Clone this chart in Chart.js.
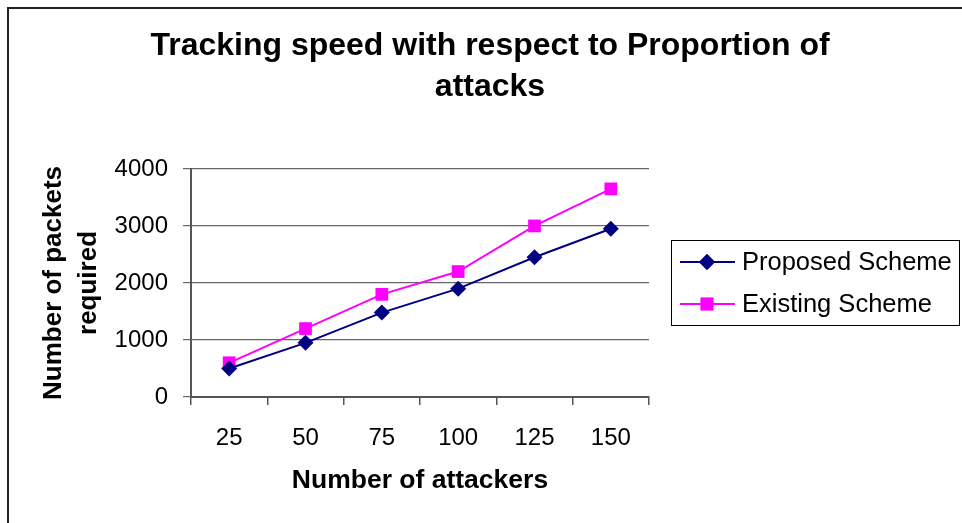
<!DOCTYPE html>
<html>
<head>
<meta charset="utf-8">
<script src="https://cdn.jsdelivr.net/npm/chart.js@4.4.1/dist/chart.umd.min.js"></script>
<style>
  html, body { margin: 0; padding: 0; background: #fff; }
  #wrap { width: 962px; height: 523px; }
</style>
</head>
<body>
<div id="wrap"><canvas id="lineChart" width="962" height="523"></canvas></div>
<script>
const attackers = ['25', '50', '75', '100', '125', '150'];
const proposed = [500, 950, 1480, 1900, 2450, 2950];
const existing = [600, 1200, 1800, 2200, 3000, 3650];
const yTicks = [0, 1000, 2000, 3000, 4000];

const FONT = "'Liberation Sans', Arial, sans-serif";

// frame + legend box drawn by hand, excel style
const excelBits = {
  id: 'excelBits',
  afterDraw(chart) {
    const c = chart.ctx;
    c.save();
    c.strokeStyle = '#222';
    c.lineWidth = 2;
    c.beginPath();
    c.moveTo(8, 523); c.lineTo(8, 8); c.lineTo(962, 8);
    c.stroke();

    // legend
    const bx = 671, by = 240, bw = 288, bh = 85;
    c.fillStyle = '#fff';
    c.fillRect(bx, by, bw, bh);
    c.lineWidth = 1;
    c.strokeStyle = '#000';
    c.strokeRect(bx + 0.5, by + 0.5, bw, bh);
    const rows = [262, 304];
    chart.data.datasets.forEach((ds, i) => {
      const y = rows[i];
      c.strokeStyle = ds.borderColor;
      c.lineWidth = 2;
      c.beginPath(); c.moveTo(680, y); c.lineTo(735, y); c.stroke();
      c.fillStyle = ds.backgroundColor;
      Chart.helpers.drawPoint(c, {pointStyle: ds.pointStyle, radius: ds.pointRadius, borderWidth: 0}, 707, y);
      c.fill();
      c.fillStyle = '#000';
      c.font = '25.5px ' + FONT;
      c.textBaseline = 'middle';
      c.textAlign = 'left';
      c.fillText(ds.label, 742, y + 1);
    });
    c.restore();
  }
};

new Chart(document.getElementById('lineChart'), {
  type: 'line',
  data: {
    labels: attackers,
    datasets: [{
      label: 'Proposed Scheme',
      data: proposed,
      borderColor: '#000080',
      backgroundColor: '#000080',
      borderWidth: 2,
      pointStyle: 'rectRot',
      pointRadius: 8,
      pointBorderWidth: 0,
      tension: 0
    }, {
      label: 'Existing Scheme',
      data: existing,
      borderColor: '#FF00FF',
      backgroundColor: '#FF00FF',
      borderWidth: 2,
      pointStyle: 'rect',
      pointRadius: 9,
      pointBorderWidth: 0,
      tension: 0
    }]
  },
  options: {
    responsive: false,
    animation: false,
    layout: { padding: { left: 18, right: 0, top: 0, bottom: 0 } },
    plugins: {
      legend: { display: false },
      tooltip: { enabled: false },
      title: {
        display: true,
        text: ['Tracking speed with respect to Proportion of', 'attacks'],
        color: '#000',
        font: { family: FONT, size: 32, weight: 'bold', lineHeight: 1.28 },
        padding: { top: 26, bottom: 61 }
      }
    },
    scales: {
      x: {
        offset: true,
        grid: { display: true, drawOnChartArea: false, offset: true, tickLength: 8, color: '#555', lineWidth: 1.5 },
        border: { color: '#555', width: 2 },
        ticks: { color: '#000', font: { family: FONT, size: 24 }, padding: 19, maxRotation: 0 },
        title: {
          display: true,
          text: 'Number of attackers',
          color: '#000',
          font: { family: FONT, size: 26.5, weight: 'bold' },
          padding: { top: 0, bottom: 26 }
        },
        afterFit(s) { s.height = 126; }
      },
      y: {
        min: 0,
        max: 4000,
        afterBuildTicks(s) { s.ticks = yTicks.map(v => ({ value: v })); },
        grid: { color: '#666', lineWidth: 1.2, tickLength: 8 },
        border: { color: '#555', width: 2 },
        ticks: { color: '#000', font: { family: FONT, size: 24 }, padding: 15, callback: v => String(v) },
        title: {
          display: true,
          text: ['Number of packets', 'required'],
          color: '#000',
          font: { family: FONT, size: 26, weight: 'bold', lineHeight: 1.35 },
          padding: { top: 18, bottom: 0 }
        },
        afterFit(s) { s.width = 173; }
      },
      yR: {
        position: 'right',
        display: true,
        grid: { display: false },
        border: { display: false },
        ticks: { display: false },
        afterFit(s) { s.width = 313; }
      }
    }
  },
  plugins: [excelBits]
});
</script>
</body>
</html>
